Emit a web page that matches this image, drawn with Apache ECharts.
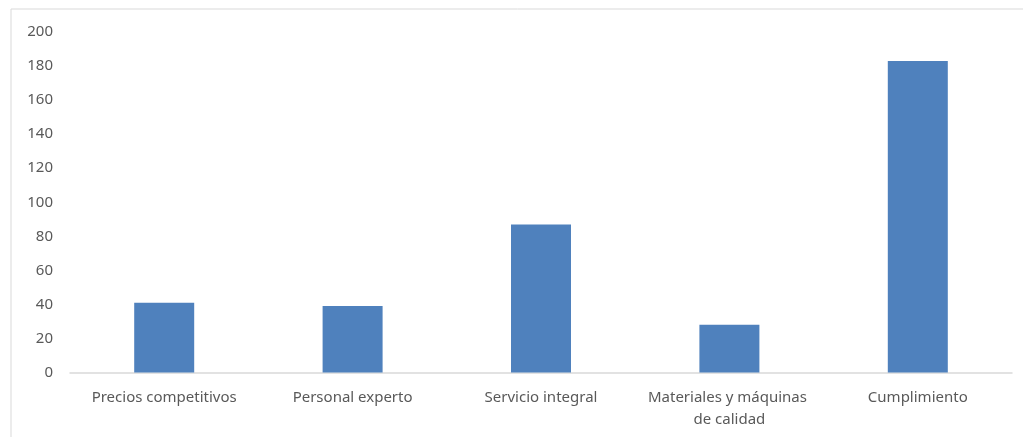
<!DOCTYPE html>
<html>
<head>
<meta charset="utf-8">
<script src="https://cdn.jsdelivr.net/npm/echarts@6/dist/echarts.min.js"></script>
<style>
  html, body { margin: 0; padding: 0; background: #fff; }
  #chart { width: 1023px; height: 437px; }
</style>
</head>
<body>
<div id="chart"></div>
<script>
const categories = [
  'Precios competitivos',
  'Personal experto',
  'Servicio integral',
  'Materiales y máquinas de calidad',
  'Cumplimiento'
];
const values = [41, 39, 87, 28, 183];
const yTicks = { min: 0, max: 200, interval: 20 };

const font = 'Noto Sans, sans-serif';
const chart = echarts.init(document.getElementById('chart'), null, { renderer: 'canvas' });

chart.setOption({
  animation: false,
  backgroundColor: '#ffffff',
  // light frame around the chart area
  graphic: [{
    type: 'rect',
    shape: { x: 11, y: 9, width: 1030, height: 450 },
    style: { fill: 'none', stroke: '#d9d9d9', lineWidth: 1 },
    silent: true,
    z: -1
  }],
  grid: { left: 70, right: 11, top: 32, bottom: 64.5, containLabel: false },
  xAxis: {
    type: 'category',
    data: categories,
    axisLine: { lineStyle: { color: '#d9d9d9', width: 1.5 } },
    axisTick: { show: false },
    axisLabel: {
      color: '#595959',
      fontFamily: font,
      fontSize: 15,
      margin: 14,
      lineHeight: 22,
      width: 170,
      overflow: 'break',
      interval: 0
    }
  },
  yAxis: {
    type: 'value',
    min: yTicks.min,
    max: yTicks.max,
    interval: yTicks.interval,
    splitLine: { show: false },
    axisLine: { show: false },
    axisTick: { show: false },
    axisLabel: {
      color: '#595959',
      fontFamily: font,
      fontSize: 15,
      margin: 17
    }
  },
  series: [{
    type: 'bar',
    data: values,
    barWidth: 60,
    itemStyle: { color: '#4f81bd' }
  }]
});
</script>
</body>
</html>
